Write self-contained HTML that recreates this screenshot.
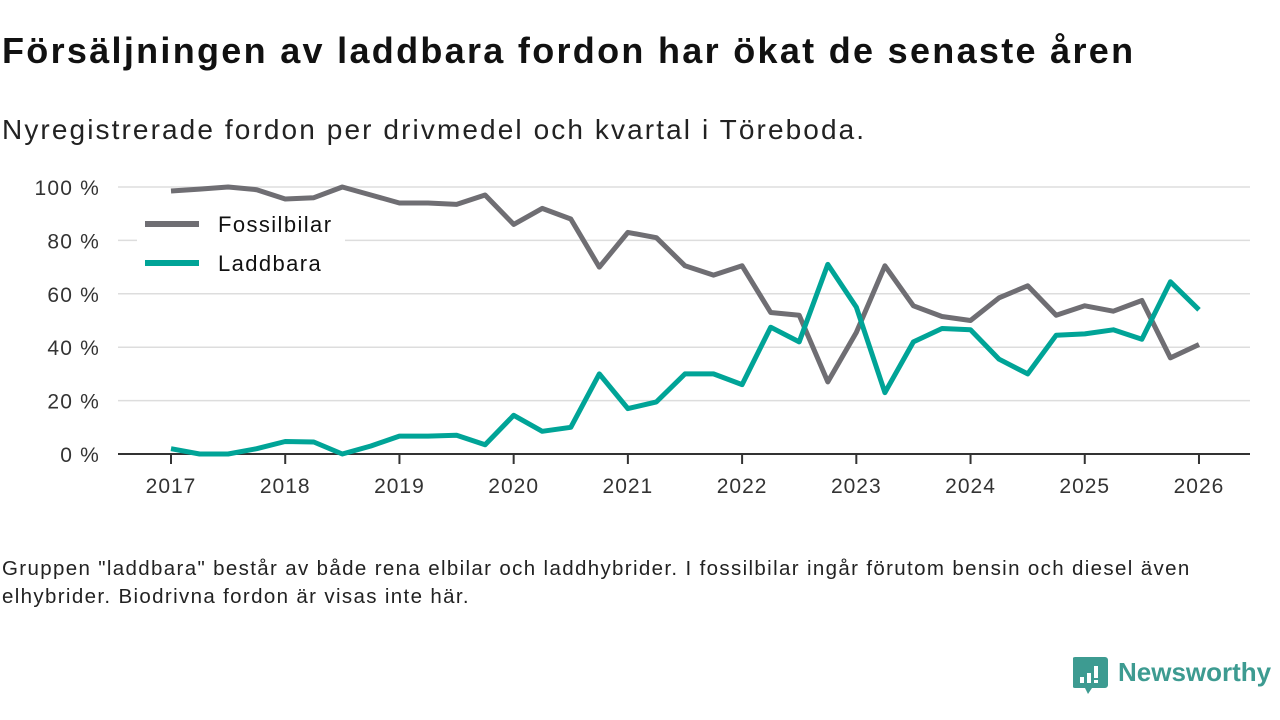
<!DOCTYPE html>
<html><head><meta charset="utf-8">
<style>
body{margin:0;background:#fff;width:1280px;height:720px;overflow:hidden;font-family:"Liberation Sans","DejaVu Sans",sans-serif;color:#111;}
#title{position:absolute;left:2px;top:30px;font-size:36px;font-weight:bold;letter-spacing:2.3px;white-space:nowrap;}
#sub{position:absolute;left:2px;top:114px;font-size:28px;color:#222;letter-spacing:2.1px;white-space:nowrap;}
#note{position:absolute;left:2px;top:555px;font-size:20.5px;line-height:28px;color:#222;width:1270px;letter-spacing:1.35px;white-space:nowrap;}
svg{position:absolute;left:0;top:0;}
</style></head><body>
<div id="title">Försäljningen av laddbara fordon har ökat de senaste åren</div>
<div id="sub">Nyregistrerade fordon per drivmedel och kvartal i Töreboda.</div>
<svg id="chart" width="1280" height="720"></svg>
<div id="note">Gruppen "laddbara" består av både rena elbilar och laddhybrider. I fossilbilar ingår förutom bensin och diesel även<br>elhybrider. Biodrivna fordon är visas inte här.</div>
<div style="position:absolute;left:1073px;top:657px;">
<svg width="36" height="38" style="position:static"><path d="M2 0h30a3 3 0 0 1 3 3v25a3 3 0 0 1-3 3H19l-4 6-3-6H2a3 3 0 0 1-3-3V3a3 3 0 0 1 3-3z" fill="#3d9b91"/><rect x="7" y="20" width="4" height="6" fill="#fff"/><rect x="14" y="16" width="4" height="10" fill="#fff"/><rect x="21" y="9" width="4" height="12" fill="#fff"/><rect x="21" y="23" width="4" height="3" fill="#fff"/></svg>
<span style="position:absolute;left:45px;top:0px;font-size:26px;font-weight:bold;color:#3d9b91;white-space:nowrap;">Newsworthy</span></div>
<script>
const years=[2017,2018,2019,2020,2021,2022,2023,2024,2025,2026];
const yTicks=[0,20,40,60,80,100];
const fossil=[98.5,99.2,100,99,95.5,96,100,97,94,94,93.5,97,86,92,88,70,83,81,70.5,67,70.5,53,52,27,45.5,70.5,55.5,51.5,50,58.5,63,52,55.5,53.5,57.5,36,41];
const laddbara=[2,0,0,2,4.7,4.5,0,3,6.7,6.7,7,3.5,14.5,8.5,10,30,17,19.5,30,30,26,47.5,42,71,55,23,42,47,46.5,35.5,30,44.5,45,46.5,43,64.5,54];
const NS='http://www.w3.org/2000/svg';
const svg=document.getElementById('chart');
const x=t=>171+(t-2017)*114.22;
const y=v=>454-v*2.67;
function el(tag,attrs,parent){const e=document.createElementNS(NS,tag);for(const k in attrs)e.setAttribute(k,attrs[k]);(parent||svg).appendChild(e);return e;}
yTicks.forEach(v=>{
  if(v>0){const g=el('line',{x1:118,x2:1250,y1:y(v),y2:y(v),stroke:'#ddd','stroke-width':1.5});
  
  }
  const t=el('text',{x:100,y:y(v)+8,'text-anchor':'end','font-size':21,fill:'#333','letter-spacing':1.2});
  t.textContent=v+' %';
  
  
});
const ax=el('line',{x1:118,x2:1250,y1:454,y2:454,stroke:'#333','stroke-width':2});


years.forEach(yr=>{
  el('line',{x1:x(yr),x2:x(yr),y1:454,y2:464,stroke:'#333','stroke-width':2});
  const t=el('text',{x:x(yr),y:493,'text-anchor':'middle','font-size':21,fill:'#333','letter-spacing':1});
  t.textContent=yr;
  
  
});
function line(data,color,name){
  const d=data.map((v,i)=>(i?'L':'M')+x(2017+i/4).toFixed(1)+' '+y(v).toFixed(1)).join(' ');
  const p=el('path',{d:d,fill:'none',stroke:color,'stroke-width':5,'stroke-linejoin':'round'});
  
  
}
line(fossil,'#6f6e73','fossilbilar-line');
line(laddbara,'#00a497','laddbara-line');
const lb=el('rect',{x:137,y:206,width:208,height:80,fill:'#fff'});


[['Fossilbilar','#6f6e73',224],['Laddbara','#00a497',263]].forEach(([n,c,yy])=>{
  el('line',{x1:145,x2:199,y1:yy,y2:yy,stroke:c,'stroke-width':6});
  const t=el('text',{x:218,y:yy+8,'font-size':22,fill:'#111','letter-spacing':1.4});
  t.textContent=n;
  
  
});
</script>
</body></html>
